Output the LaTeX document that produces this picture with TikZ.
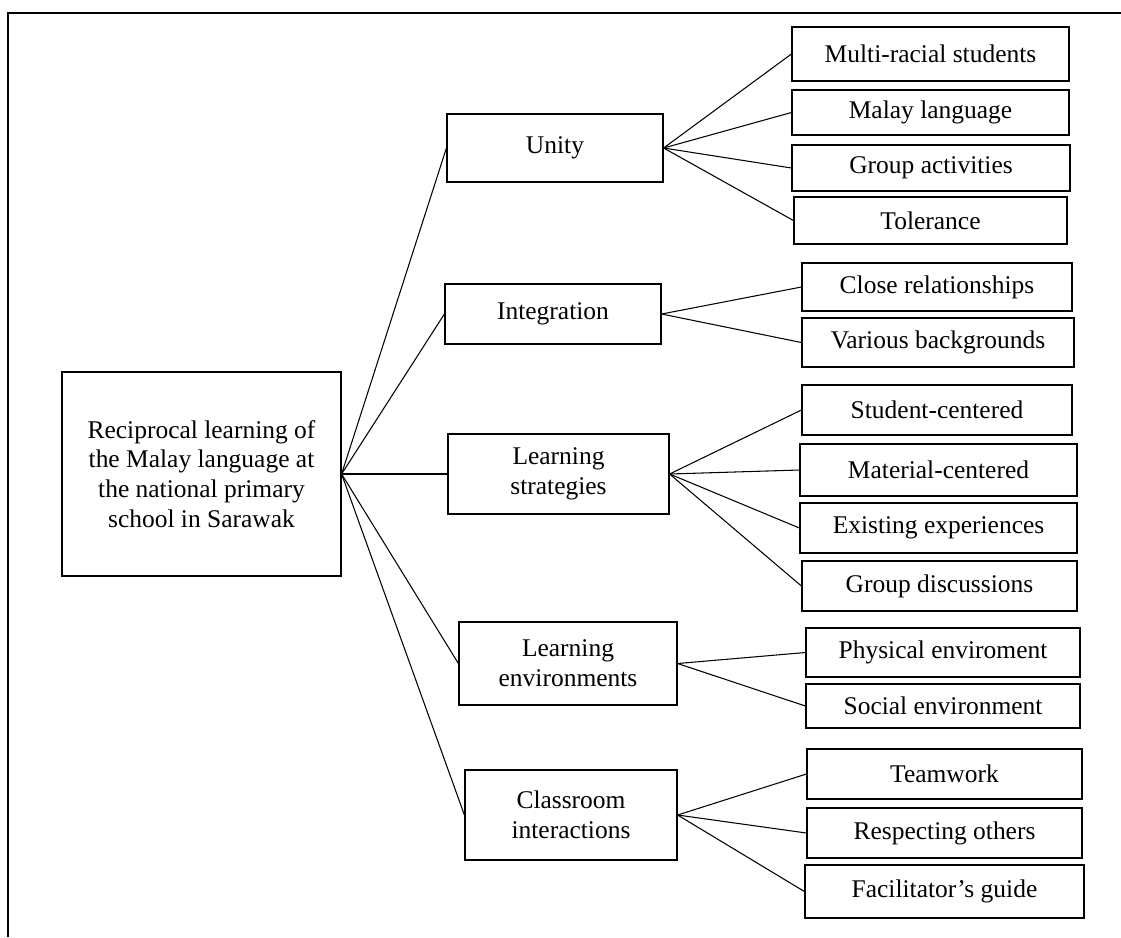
\documentclass[tikz,border=0pt]{standalone}
\usepackage{fontspec}
\setmainfont{Liberation Serif}
\usetikzlibrary{positioning}

\tikzset{
    box/.style={draw, line width=0.7pt, rectangle, align=center, inner sep=2pt,
        font=\fontsize{14.5}{17}\selectfont},
    link/.style={line width=0.6pt}
}

\begin{document}
\begin{tikzpicture}[x=0.02cm, y=-0.02cm]
            \useasboundingbox (0,0) rectangle (1121,937);
            \draw[line width=1.6pt] (8,937) -- (8,13) -- (1121,13);

            % root and main themes
            \node[box, minimum width=5.58cm, minimum height=4.08cm] (root) at (201.5,474) {Reciprocal learning of\\the Malay language at\\the national primary\\school in Sarawak};
            \node[box, minimum width=4.32cm, minimum height=1.36cm] (unity) at (555,148) {Unity};
            \node[box, minimum width=4.32cm, minimum height=1.2cm] (integ) at (553,314) {Integration};
            \node[box, minimum width=4.42cm, minimum height=1.6cm] (strat) at (558.5,474) {Learning\\strategies};
            \node[box, minimum width=4.36cm, minimum height=1.66cm] (envir) at (568,663.5) {Learning\\environments};
            \node[box, minimum width=4.24cm, minimum height=1.8cm] (inter) at (571,815) {Classroom\\interactions};

            % sub themes
            \node[box, minimum width=5.54cm, minimum height=1.08cm] (multi) at (930.5,54) {Multi-racial students};
            \node[box, minimum width=5.54cm, minimum height=0.9cm] (malay) at (930.5,112.5) {Malay language};
            \node[box, minimum width=5.56cm, minimum height=0.92cm] (groupact) at (931,168) {Group activities};
            \node[box, minimum width=5.46cm, minimum height=0.94cm] (toler) at (930.5,220.5) {Tolerance};
            \node[box, minimum width=5.4cm, minimum height=0.96cm] (close) at (937,287) {Close relationships};
            \node[box, minimum width=5.44cm, minimum height=0.98cm] (various) at (938,342.5) {Various backgrounds};
            \node[box, minimum width=5.4cm, minimum height=1.0cm] (student) at (937,410) {Student-centered};
            \node[box, minimum width=5.54cm, minimum height=1.04cm] (material) at (938.5,470) {Material-centered};
            \node[box, minimum width=5.54cm, minimum height=1.0cm] (exist) at (938.5,528) {Existing experiences};
            \node[box, minimum width=5.5cm, minimum height=1.0cm] (groupdisc) at (939.5,586) {Group discussions};
            \node[box, minimum width=5.48cm, minimum height=0.98cm] (phys) at (943,652.5) {Physical enviroment};
            \node[box, minimum width=5.48cm, minimum height=0.88cm] (social) at (943,706) {Social environment};
            \node[box, minimum width=5.5cm, minimum height=1.0cm] (team) at (944.5,774) {Teamwork};
            \node[box, minimum width=5.5cm, minimum height=1.0cm] (respect) at (944.5,833) {Respecting others};
            \node[box, minimum width=5.58cm, minimum height=1.06cm] (facil) at (944.5,891.5) {Facilitator’s guide};

            \draw[link] (root.east) -- (unity.west);
            \draw[link] (root.east) -- (integ.west);
            \draw[link] (root.east) -- (strat.west);
            \draw[link] (root.east) -- (envir.west);
            \draw[link] (root.east) -- (inter.west);

            \draw[link] (unity.east) -- (multi.west);
            \draw[link] (unity.east) -- (malay.west);
            \draw[link] (unity.east) -- (groupact.west);
            \draw[link] (unity.east) -- (toler.west);
            \draw[link] (integ.east) -- (close.west);
            \draw[link] (integ.east) -- (various.west);
            \draw[link] (strat.east) -- (student.west);
            \draw[link] (strat.east) -- (material.west);
            \draw[link] (strat.east) -- (exist.west);
            \draw[link] (strat.east) -- (groupdisc.west);
            \draw[link] (envir.east) -- (phys.west);
            \draw[link] (envir.east) -- (social.west);
            \draw[link] (inter.east) -- (team.west);
            \draw[link] (inter.east) -- (respect.west);
            \draw[link] (inter.east) -- (facil.west);
        \end{tikzpicture}
\end{document}
